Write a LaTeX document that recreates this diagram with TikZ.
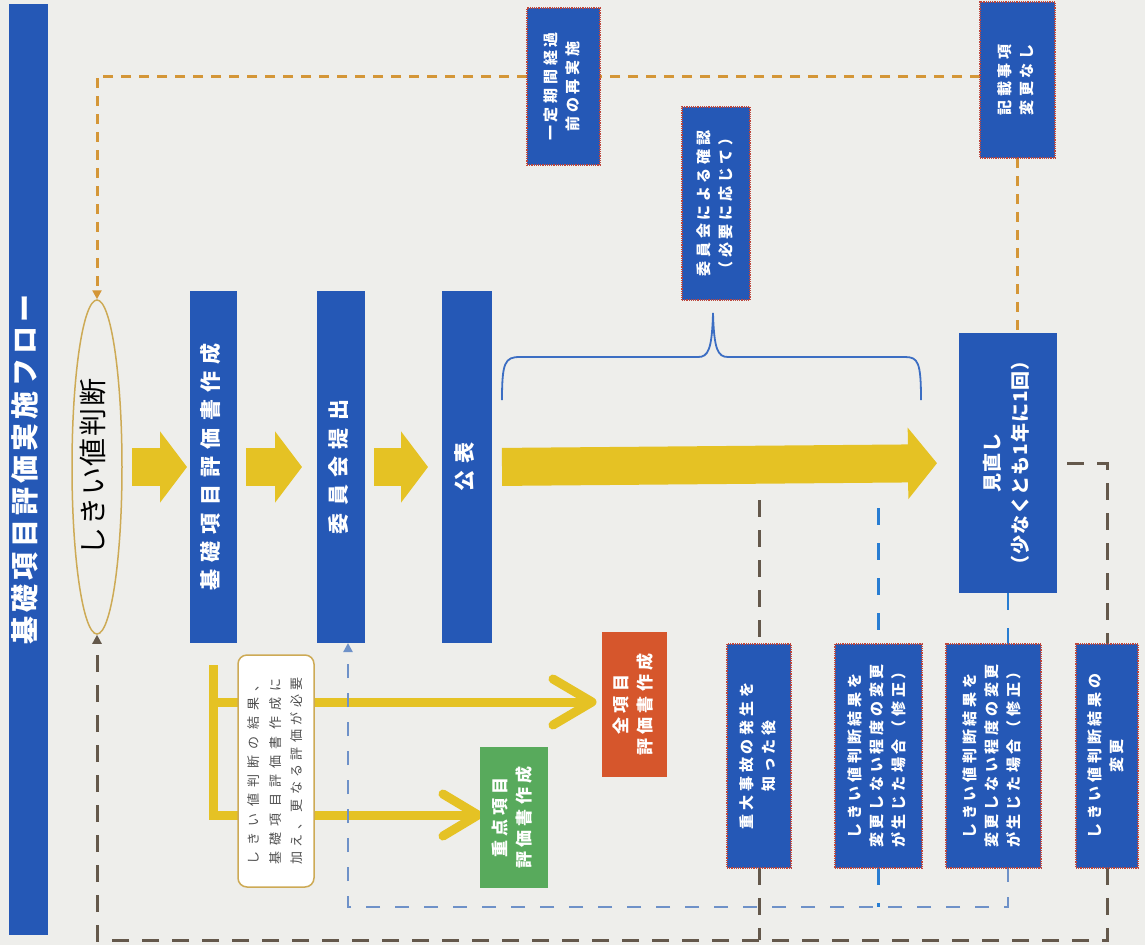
\documentclass[tikz,border=0pt]{standalone}
\usepackage{fontspec}
\setmainfont{Noto Sans CJK JP}
\usepackage{graphicx}
\usetikzlibrary{shapes.geometric,arrows.meta,calc}
\pgfdeclarelayer{back}
\pgfdeclarelayer{bg}
\pgfsetlayers{back,bg,main}
\definecolor{paper}{RGB}{238,238,235}
\definecolor{bxblue}{RGB}{37,88,182}
\definecolor{bordred}{RGB}{190,70,60}
\definecolor{ygold}{RGB}{229,194,36}
\definecolor{ellgold}{RGB}{205,170,85}
\definecolor{dorange}{RGB}{212,150,55}
\definecolor{dbrown}{RGB}{100,88,75}
\definecolor{lblue}{RGB}{110,145,200}
\definecolor{cblue}{RGB}{40,125,210}
\definecolor{brblue}{RGB}{60,110,195}
\definecolor{jgreen}{RGB}{88,170,92}
\definecolor{zorange}{RGB}{214,86,44}
\definecolor{notegray}{RGB}{80,80,80}
\newcommand{\vt}[4]{\rotatebox{90}{\fontsize{#1}{#2}\selectfont\addfontfeature{LetterSpace=#3}\begin{tabular}{@{}c@{}}#4\end{tabular}}}
\newcommand{\vtl}[4]{\rotatebox{90}{\fontsize{#1}{#2}\selectfont\addfontfeature{LetterSpace=#3}\begin{tabular}{@{}l@{}}#4\end{tabular}}}
\begin{document}
\begin{tikzpicture}[x=1pt,y=-1pt,
 bluebox/.style={fill=bxblue,inner sep=0pt,outer sep=0pt,text=white,font=\bfseries},
 redbord/.style={draw=bordred,densely dotted,line width=1.2pt},
 blk/.style={draw=ygold,line width=38pt,-{Triangle[length=27pt,width=70pt]}},
 odash/.style={draw=dorange,line width=3pt,dash pattern=on 10pt off 8pt},
 bdash/.style={draw=dbrown,line width=3pt,dash pattern=on 17pt off 13pt},
 ldash/.style={draw=lblue,line width=2.5pt,dash pattern=on 14pt off 15pt},
 cdash/.style={draw=cblue,line width=2.5pt,dash pattern=on 17pt off 18pt},
 ptip/.style={-{Triangle[length=9pt,width=9pt]}},
 yline/.style={draw=ygold,line width=9pt},
 bracel/.style={draw=brblue,line width=1.8pt},
]
\begin{pgfonlayer}{back}
\fill[paper] (0,0) rectangle (1145,945);
\end{pgfonlayer}
\useasboundingbox (0,0) rectangle (1145,945);

% title
\node[bluebox,minimum width=39,minimum height=931] (title) at (28.5,469.5) {\vt{28}{34}{15}{基礎項目評価実施フロー}};
% ellipse
\node[ellipse,draw=ellgold,line width=1.5pt,fill=paper,minimum width=50,minimum height=334,inner sep=0pt] (ell) at (97,467) {\vt{28}{32}{6}{しきい値判断}};
% main flow boxes
\node[bluebox,minimum width=47,minimum height=352] (kiso) at (213.5,467) {\vt{21}{26}{35}{基礎項目評価書作成}};
\node[bluebox,minimum width=48,minimum height=352] (kom) at (341,467) {\vt{21}{26}{35}{委員会提出}};
\node[bluebox,minimum width=50,minimum height=352] (kou) at (467,467) {\vt{21}{26}{35}{公表}};
\node[bluebox,minimum width=98,minimum height=260] (mino) at (1008,463) {\vt{19}{28}{5}{見直し\\（少なくとも1年に1回）}};
% small boxes
\node[bluebox,redbord,minimum width=73,minimum height=157] (ittei) at (563.5,86.5) {\vt{15}{22}{25}{一定期間経過\\前の再実施}};
\node[bluebox,redbord,minimum width=75,minimum height=156] (kisai) at (1017.5,80) {\vt{15}{22}{25}{記載事項\\変更なし}};
\node[bluebox,redbord,minimum width=68,minimum height=193] (kakunin) at (716,203.5) {\vt{15}{22}{25}{委員会による確認\\（必要に応じて）}};
\node[bluebox,redbord,minimum width=64,minimum height=224] (box1) at (759,756) {\vt{15}{22}{25}{重大事故の発生を\\知った後}};
\node[bluebox,redbord,minimum width=87,minimum height=224] (box2) at (878.5,756) {\vt{15}{22}{25}{しきい値判断結果を\\変更しない程度の変更\\が生じた場合（修正）}};
\node[bluebox,redbord,minimum width=95,minimum height=224] (box3) at (993.5,756) {\vt{15}{22}{25}{しきい値判断結果を\\変更しない程度の変更\\が生じた場合（修正）}};
\node[bluebox,redbord,minimum width=62,minimum height=224] (box4) at (1107,756) {\vt{15}{22}{25}{しきい値判断結果の\\変更}};
% assessment boxes
\node[bluebox,fill=zorange,minimum width=65,minimum height=145] (zen) at (634.5,704.5) {\vt{17}{24}{25}{全項目\\評価書作成}};
\node[bluebox,fill=jgreen,minimum width=68,minimum height=141] (juten) at (514,817.5) {\vt{17}{24}{25}{重点項目\\評価書作成}};
% note
\node[draw=ellgold,line width=1.5pt,rounded corners=9pt,fill=white,minimum width=76,minimum height=232,inner sep=0pt,text=notegray] (note) at (276,771) {\vtl{13}{21.5}{48}{しきい値判断の結果、\\基礎項目評価書作成に\\\addfontfeature{LetterSpace=34}加え、更なる評価が必要}};

% yellow block arrows
\draw[blk,shorten <=9pt,shorten >=3pt] (ell.east) -- (kiso.west);
\draw[blk,shorten <=9pt,shorten >=15pt] (kiso.east) -- (kom.west);
\draw[blk,shorten <=9pt,shorten >=14pt] (kom.east) -- (kou.west);
\draw[blk,-{Triangle[length=29pt,width=70pt]},shorten <=10pt,shorten >=22pt] (kou.east) -- (mino.west);

% brace
\draw[bracel] (502,400) .. controls (502,362) and (505,357) .. (520,357) -- (698,357) .. controls (708,357) and (712,350) .. (713,313) .. controls (714,350) and (718,357) .. (728,357) -- (905,357) .. controls (918,357) and (921,362) .. (921,400);

\coordinate (ocorner) at (97,76);
\coordinate (bcl) at (97,940);
\coordinate (bll) at (348,907);
\coordinate (lowa) at (0,500);
\coordinate (lowb) at (0,508);
\coordinate (ytop) at (213,665);
\coordinate (ztip) at (592,702);
\coordinate (jtip) at (478,815);

\begin{pgfonlayer}{bg}
% yellow branch lines behind the note
\draw[yline] (ytop) -- (ytop |- jtip) -- (jtip);
\draw[yline] (ytop |- ztip) -- (ztip);
\draw[yline,line cap=round,line join=round] ($(ztip)+(-39,-23)$) -- (ztip) -- ($(ztip)+(-39,23)$);
\draw[yline,line cap=round,line join=round] ($(jtip)+(-35,-21)$) -- (jtip) -- ($(jtip)+(-35,21)$);
% orange loop
\draw[odash] (kisai.south) -- (kisai.south |- mino.north);
\draw[odash] (kisai.west |- ocorner) -- (ittei.east |- ocorner);
\draw[odash,ptip] (ittei.west |- ocorner) -- (ocorner) -- (ell.north);
% brown loop
\draw[bdash] ([xshift=10pt]mino.east) -- (mino.east -| box4.north) -- (box4.north);
\draw[bdash,ptip] (box4.south) -- (box4.south |- bcl) -- (bcl) -- (ell.south);
\draw[bdash] (box1.north |- lowa) -- (box1.north);
\draw[bdash] (box1.south) -- (box1.south |- bcl);
% blue loop
\draw[cdash] (mino.south) -- (mino.south |- box3.north);
\draw[ldash,ptip] (box3.south -| mino.south) -- (mino.south |- bll) -- (bll) -- ([xshift=7pt]kom.south);
\draw[cdash] (box2.north |- lowb) -- (box2.north);
\draw[cdash] (box2.south) -- (box2.south |- bll);
\end{pgfonlayer}
\end{tikzpicture}
\end{document}
